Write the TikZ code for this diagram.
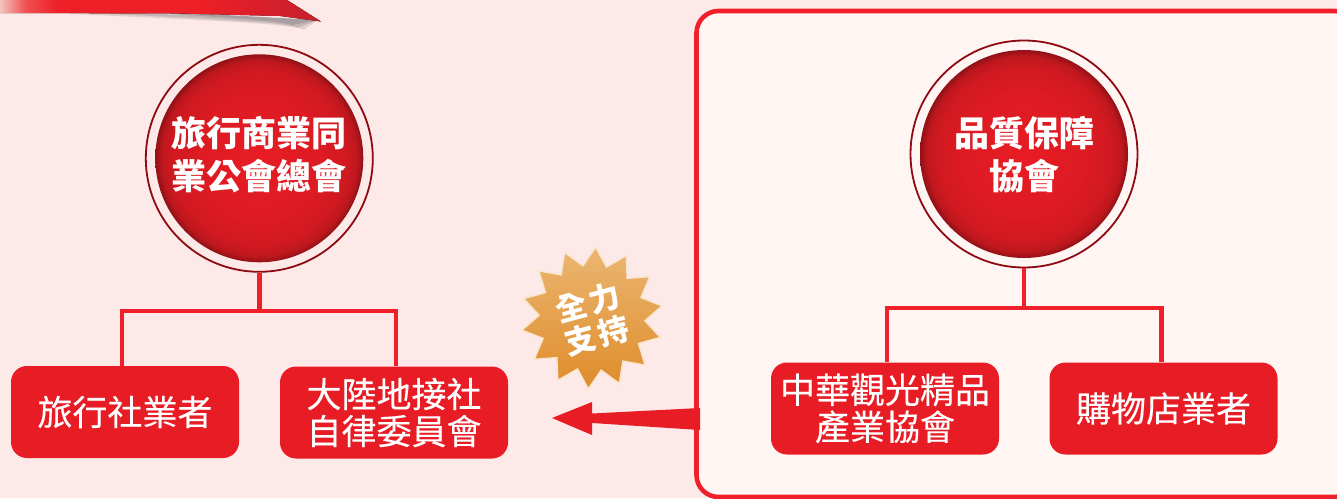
\documentclass[tikz,border=0pt]{standalone}
\usepackage{fontspec}
\newfontfamily\cjk{Noto Sans CJK TC}
\newfontfamily\cjkm{Noto Sans CJK TC}[FakeBold=0.25]
\usetikzlibrary{shapes.geometric,calc}
\definecolor{bgpink}{HTML}{FDE9E8}
\definecolor{framefill}{HTML}{FFF5F3}
\definecolor{redmain}{HTML}{E81C24}
\definecolor{redline}{HTML}{F0202A}
\definecolor{ringdark}{HTML}{8E0A12}
\definecolor{badgetop}{HTML}{EBB672}
\definecolor{badgebot}{HTML}{DF8C2A}
\definecolor{ribleft}{HTML}{F3C4BC}
\definecolor{ribmid}{HTML}{EE1F27}
\definecolor{ribright}{HTML}{C4202E}
\definecolor{shadowa}{HTML}{E2CFCE}
\definecolor{shadowb}{HTML}{C4B6B6}
\definecolor{shadowc}{HTML}{A8A0A0}
\pgfdeclareradialshading{discshade}{\pgfpoint{0bp}{0bp}}{%
  color(0bp)=(redmain);
  color(15bp)=(redmain!95!black);
  color(21bp)=(redmain!90!black);
  color(23.5bp)=(redmain!82!black);
  color(25bp)=(redmain!62!black);
  color(50bp)=(redmain!62!black)}
\pgfdeclarehorizontalshading{ribshade}{100bp}{%
  color(0bp)=(ribleft);
  color(25bp)=(ribleft);
  color(29bp)=(ribmid!70!ribleft);
  color(34bp)=(ribmid);
  color(56bp)=(ribmid);
  color(75bp)=(ribright);
  color(100bp)=(ribright)}
\tikzset{
  x=1pt,y=-1pt,
  ring/.style={circle,draw=ringdark,line width=1.8pt,minimum size=227pt,inner sep=0pt},
  disc/.style={circle,shading=discshade,minimum size=208pt,inner sep=0pt},
  disclabel/.style={inner sep=0pt,text=white,align=center,font=\cjk\bfseries\fontsize{35}{43}\selectfont},
  orgbox/.style={rectangle,rounded corners=16pt,fill=redmain,minimum width=228pt,minimum height=92pt,
    inner sep=0pt,text=white,align=center,font=\cjkm\fontsize{35}{37}\selectfont},
  conn/.style={draw=redline,line width=4.4pt},
  badge/.style={star,star points=14,star point ratio=1.34,minimum size=142pt,inner sep=0pt,
    top color=badgetop,bottom color=badgebot,draw=badgetop!35!white,line width=1.4pt,rotate=-3},
  badgetext/.style={text=white,align=center,rotate=15,inner sep=0pt,font=\cjk\bfseries\fontsize{31}{34.5}\selectfont}
}
\begin{document}
\begin{tikzpicture}
\useasboundingbox (0,0) rectangle (1337,498);
\fill[bgpink] (0,0) rectangle (1337,498);
% ribbon shadow
\fill[shadowa] (70,12) -- (318,20) -- (304,29.5) .. controls (285,24) and (240,21.5) .. (70,14) -- cycle;
\fill[shadowb] (110,12) -- (318,20) -- (298,27.5) .. controls (280,22.5) and (240,20) .. (110,14) -- cycle;
\fill[shadowc] (170,12) -- (318,20) -- (292,25) .. controls (275,20.5) and (240,18.5) .. (170,14) -- cycle;
% ribbon
\fill[shading=ribshade] (0,0) -- (287,0) -- (321,21.5) -- (280,16) -- (180,13.5) -- (0,13) -- cycle;
% frame
\node[draw=redline,line width=4.6pt,fill=framefill,rounded corners=22pt,minimum width=660pt,minimum height=486pt,inner sep=0pt,outer sep=0pt,anchor=north west] (frame) at (696.5,11) {};
% left tree
\node[ring] (r1) at (259.3,158.3) {};
\node[orgbox] (b1) at (125,412) {旅行社業者};
\node[orgbox] (b2) at (394,412.5) {大陸地接社\\自律委員會};
\coordinate (j1) at (259.3,311);
\draw[conn] (r1.south) -- (j1);
\draw[conn] ([xshift=-3pt]b1.north) |- (j1) -| ([xshift=2pt]b2.north);
\node[disc] (c1) at (259.3,158.3) {};
\node[disclabel] (c1t) at ([yshift=3.5pt]c1.center) {旅行商業同\\業公會總會};
% right tree
\node[ring] (r2) at (1024,154) {};
\node[orgbox] (b3) at (885,408.5) {中華觀光精品\\產業協會};
\node[orgbox] (b4) at (1163.5,408.5) {購物店業者};
\coordinate (j2) at (1024,308);
\draw[conn] (r2.south) -- (j2);
\draw[conn] ([xshift=2pt]b3.north) |- (j2) -| ([xshift=-2pt]b4.north);
\node[disc] (c2) at (1024,154) {};
\node[disclabel] (c2t) at ([yshift=-0.5pt]c2.center) {品質保障\\協會};
% big arrow from frame toward the self-regulation box
\coordinate (arrowtail) at (700,419);
\coordinate (arrowtip) at (552,418);
\fill[redmain,draw=none] ($(arrowtail)+(0,-11)$) -- (592,413.5) -- (592,402) -- (arrowtip) -- (592,435) -- (592,423) -- ($(arrowtail)+(0,11)$) -- cycle;
% badge
\node[badge] (s) at (592,318) {};
\node[badgetext] (st) at (592.4,319) {全\kern4pt力\\支\kern4pt持};
\end{tikzpicture}
\end{document}
